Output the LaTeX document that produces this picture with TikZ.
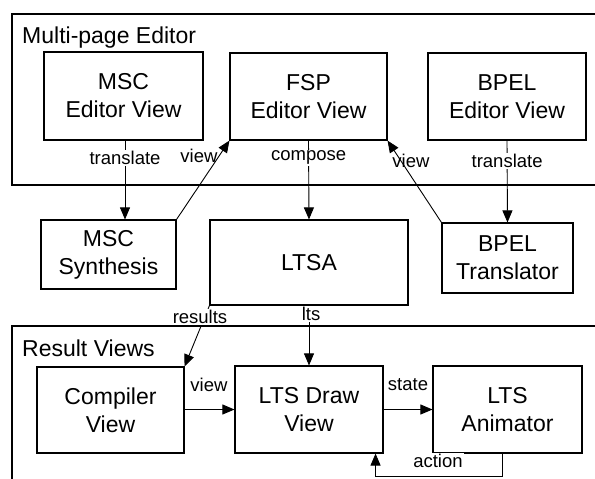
\documentclass[tikz,border=0pt]{standalone}
\usepackage{fontspec}
\setmainfont{Liberation Sans}
\usetikzlibrary{arrows.meta}
\begin{document}
\begin{tikzpicture}[x=1pt,y=-1pt,
  box/.style={draw,line width=1.1pt,align=center,inner sep=0pt,font=\fontsize{23}{28}\selectfont},
  frame/.style={draw,line width=1.1pt},
  frametitle/.style={anchor=base west,inner sep=0pt,font=\fontsize{23}{28}\selectfont},
  lab/.style={font=\fontsize{18.5}{21}\selectfont,inner sep=1.5pt},
  wlab/.style={lab,fill=white},
  conn/.style={line width=0.9pt,-{Triangle[length=12pt,width=10pt]}},
  line/.style={line width=0.9pt}]
\useasboundingbox (0,0) rectangle (595,479);
\clip (0,0) rectangle (595,479);
\fill[white] (0,0) rectangle (595,479);
% frames
\draw[frame] (620,14) -- (12,14) -- (12,185) -- (620,185);
\draw[frame] (620,326) -- (12,326) -- (12,500);
\node[frametitle] (t1) at (22,43) {Multi-page Editor};
\node[frametitle] (t2) at (22,356) {Result Views};
% boxes
\node[box,minimum width=159pt,minimum height=88pt] (mscE) at (123.5,96) {MSC\\Editor View};
\node[box,minimum width=157pt,minimum height=87pt] (fspE) at (308.5,96.5) {FSP\\Editor View};
\node[box,minimum width=158pt,minimum height=87pt] (bpelE) at (507,96.5) {BPEL\\Editor View};
\node[box,minimum width=135pt,minimum height=69pt] (mscS) at (108.5,254.5) {MSC\\Synthesis};
\node[box,minimum width=198pt,minimum height=85pt] (ltsa) at (309,262.5) {LTSA};
\node[box,minimum width=131pt,minimum height=70pt] (bpelT) at (507.5,258) {BPEL\\Translator};
\node[box,minimum width=147pt,minimum height=86pt] (comp) at (110.5,410) {Compiler\\View};
\node[box,minimum width=148pt,minimum height=87pt] (ltsd) at (309,409.5) {LTS Draw\\View};
\node[box,minimum width=149pt,minimum height=87pt] (anim) at (507.5,409.5) {LTS\\Animator};
% connectors
\draw[conn] ([xshift=1.5pt]mscE.south) -- ([xshift=1.5pt]mscE.south |- mscS.north)
  node[wlab,pos=0.22] (l1) {translate};
\draw[conn] (mscS.north east) -- (fspE.south west);
\node[lab] (l2) at (199,156) {view};
\draw[conn] (fspE.south) -- (ltsa.north) node[wlab,pos=0.22] (l3) {compose};
\draw[conn] (bpelT.north west) -- (fspE.south east);
\node[lab] (l4) at (411,161) {view};
\draw[conn] (bpelE.south) -- (bpelT.north) node[wlab,pos=0.25] (l5) {translate};
\draw[conn] (ltsa.south west) -- (comp.north east);
\node[wlab] (l6) at (200,317) {results};
\draw[conn] (ltsa.south) -- (ltsd.north);
\node[wlab] (l7) at (311,314) {lts};
\draw[conn] (comp.east |- ltsd.east) -- (ltsd.east -| ltsd.west) ;
\node[lab] (l8) at (209,385) {view};
\draw[conn] (ltsd.east) -- (anim.west);
\node[lab] (l9) at (408,385) {state};
\coordinate (a1) at ([xshift=-5.5pt]anim.south);
\coordinate (a2) at ([xshift=-8pt]ltsd.south east);
\draw[conn] (a1) -- ++(0,23) -| (a2);
\node[wlab] (l10) at (438,461) {action};
\end{tikzpicture}
\end{document}
